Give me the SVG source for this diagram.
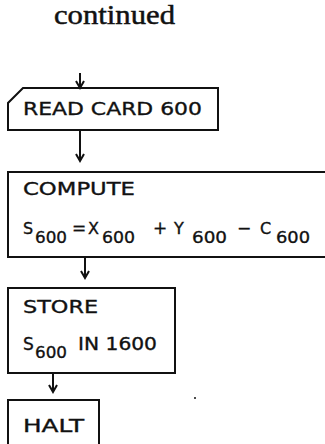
<svg xmlns="http://www.w3.org/2000/svg" width="325" height="444" viewBox="0 0 325 444">
<defs>
<style>
.box{fill:none;stroke:#111;stroke-width:2}
.ln{fill:none;stroke:#111;stroke-width:2}
.t{font-family:"DejaVu Sans","Liberation Sans",sans-serif;fill:#111;stroke:#111;stroke-width:0.35;font-size:17px}
.r{font-size:18px}
.l{font-size:16px}
.s{font-size:16.5px}
.cap{font-family:"Liberation Serif","DejaVu Serif",serif;fill:#111;stroke:#111;stroke-width:0.5;font-size:28px}
</style>
<marker id="ah" markerWidth="10" markerHeight="10" refX="8" refY="5" orient="auto" markerUnits="userSpaceOnUse" viewBox="0 0 10 10">
<path d="M1,1 L8,5 L1,9" fill="none" stroke="#111" stroke-width="2"/>
</marker>
</defs>
<rect width="325" height="444" fill="#fff"/>
<text class="cap" x="54" y="24" textLength="121" lengthAdjust="spacingAndGlyphs">continued</text>
<g id="connectors">
<path class="ln" d="M80,73 V88" marker-end="url(#ah)"/>
<path class="ln" d="M80,130 V161" marker-end="url(#ah)"/>
<path class="ln" d="M85,257 V278" marker-end="url(#ah)"/>
<path class="ln" d="M53,373 V392" marker-end="url(#ah)"/>
</g>
<g id="read">
<path class="box" d="M23,88 H218 V130 H8 V103 Z"/>
<text class="t r" x="23" y="115" textLength="179" lengthAdjust="spacingAndGlyphs">READ CARD 600</text>
</g>
<g id="compute">
<path class="box" d="M330,172 H8 V257 H330"/>
<text class="t" x="23" y="195" textLength="112" lengthAdjust="spacingAndGlyphs">COMPUTE</text>
<text class="t l" x="23" y="234">S</text>
<text class="t s" x="35" y="243" textLength="32" lengthAdjust="spacingAndGlyphs">600</text>
<text class="t" x="72" y="234">=</text>
<text class="t l" x="88" y="234">X</text>
<text class="t s" x="102" y="243" textLength="33" lengthAdjust="spacingAndGlyphs">600</text>
<text class="t" x="153" y="234">+</text>
<text class="t l" x="174" y="234">Y</text>
<text class="t s" x="192" y="243" textLength="35" lengthAdjust="spacingAndGlyphs">600</text>
<text class="t" x="237" y="234">−</text>
<text class="t l" x="260" y="234">C</text>
<text class="t s" x="276" y="243" textLength="34" lengthAdjust="spacingAndGlyphs">600</text>
</g>
<g id="store">
<rect class="box" x="8" y="288" width="167" height="85"/>
<text class="t" x="23" y="313" textLength="75" lengthAdjust="spacingAndGlyphs">STORE</text>
<text class="t" x="23" y="350">S</text>
<text class="t s" x="35" y="358" textLength="32" lengthAdjust="spacingAndGlyphs">600</text>
<text class="t" x="78" y="350" textLength="79" lengthAdjust="spacingAndGlyphs">IN  1600</text>
</g>
<g id="halt">
<path class="box" d="M8,446 V400 H99 V446"/>
<text class="t" x="23" y="432" textLength="61" lengthAdjust="spacingAndGlyphs">HALT</text>
</g>
<circle cx="195" cy="398" r="1" fill="#111"/>
</svg>
